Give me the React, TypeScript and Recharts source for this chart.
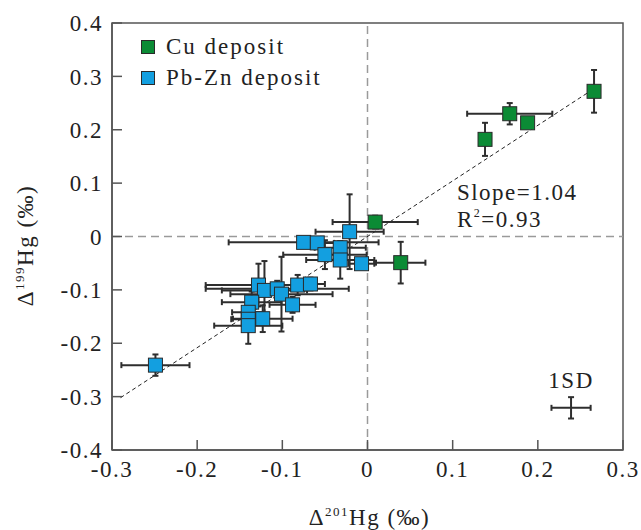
import React from 'react'
import {
  ScatterChart, Scatter, XAxis, YAxis, ErrorBar,
  ReferenceLine, ReferenceArea, ReferenceDot, Legend, Label,
} from 'recharts'

document.body.style.margin = '0'

const FONT = '"Liberation Serif", "Times New Roman", serif'
const CU_COLOR = '#0b8b35'
const PBZN_COLOR = '#139fe0'
const BAR_COLOR = '#2e2e2e'

const xTicks = [-0.3, -0.2, -0.1, 0, 0.1, 0.2, 0.3]
const yTicks = [-0.4, -0.3, -0.2, -0.1, 0, 0.1, 0.2, 0.3, 0.4]

// Pb-Zn deposit: Δ201Hg, Δ199Hg and 1SD on each
const pbZnX = [-0.249, -0.021, -0.075, -0.059, -0.050, -0.032, -0.032, -0.007, -0.128, -0.121, -0.106, -0.101, -0.082, -0.067, -0.136, -0.088, -0.140, -0.140, -0.140, -0.123]
const pbZnY = [-0.241, 0.009, -0.011, -0.012, -0.034, -0.021, -0.044, -0.051, -0.091, -0.101, -0.098, -0.108, -0.091, -0.089, -0.123, -0.128, -0.142, -0.155, -0.167, -0.154]
const pbZnErrX = [0.040, 0.040, 0.088, 0.020, 0.049, 0.030, 0.040, 0.015, 0.062, 0.050, 0.084, 0.060, 0.020, 0.017, 0.035, 0.027, 0.019, 0.020, 0.040, 0.035]
const pbZnErrY = [0.020, 0.070, 0.008, 0.010, 0.027, 0.012, 0.035, 0.010, 0.040, 0.055, 0.015, 0.070, 0.019, 0.012, 0.020, 0.015, 0.015, 0.015, 0.034, 0.025]

// Cu deposit
const cuX = [0.266, 0.167, 0.188, 0.138, 0.009, 0.039]
const cuY = [0.272, 0.230, 0.213, 0.182, 0.027, -0.049]
const cuErrX = [0.006, 0.050, 0, 0.004, 0.050, 0.029]
const cuErrY = [0.040, 0.020, 0, 0.031, 0.012, 0.039]

// typical 1SD marker
const sdPoint = { x: 0.239, y: -0.321, ex: 0.023, ey: 0.02 }

// regression line ends (slope 1.04)
const fitStart = { x: -0.29, y: -0.302 }
const fitEnd = { x: 0.265, y: 0.276 }

const zip = (xs: number[], ys: number[], exs: number[], eys: number[]) =>
  xs.map((x, i) => ({ x, y: ys[i], ex: exs[i], ey: eys[i] }))

const pbZnData = zip(pbZnX, pbZnY, pbZnErrX, pbZnErrY)
const cuData = zip(cuX, cuY, cuErrX, cuErrY)

const legendItems = [
  { name: 'Cu deposit', color: CU_COLOR },
  { name: 'Pb-Zn deposit', color: PBZN_COLOR },
]

const square = (fill: string) => (p: any) => (
  <rect x={p.cx - 7} y={p.cy - 7} width={14} height={14} fill={fill} stroke="#2a2a2a" strokeWidth={1} />
)

const textStyle = { fontFamily: FONT, fontSize: 23, fill: '#222', letterSpacing: 1.5 }

function LegendBox() {
  return (
    <div style={{ fontFamily: FONT, fontSize: 23, color: '#222', letterSpacing: 2 }}>
      {legendItems.map(item => (
        <div key={item.name} style={{ display: 'flex', alignItems: 'center', height: 31 }}>
          <span style={{ width: 12, height: 12, background: item.color, border: '1px solid #2a2a2a', marginRight: 11 }} />
          <span>{item.name}</span>
        </div>
      ))}
    </div>
  )
}

function YTitle({ viewBox }: any) {
  const cy = viewBox.y + viewBox.height / 2 + 9
  return (
    <text transform={`translate(33, ${cy}) rotate(-90)`} textAnchor="middle" {...textStyle}>
      Δ<tspan dy={-9} fontSize={13}>199</tspan><tspan dy={9}>Hg (‰)</tspan>
    </text>
  )
}

function XTitle({ viewBox }: any) {
  const cx = viewBox.x + viewBox.width / 2 + 2
  return (
    <text x={cx} y={525} textAnchor="middle" {...textStyle}>
      Δ<tspan dy={-9} fontSize={13}>201</tspan><tspan dy={9}>Hg (‰)</tspan>
    </text>
  )
}

export default function App() {
  return (
    <ScatterChart width={641} height={530} margin={{ top: 23, right: 18, bottom: 50, left: 0 }}>
      <XAxis
        type="number" dataKey="x" domain={[-0.3, 0.3]} ticks={xTicks} allowDataOverflow
        height={30} tickSize={-10} tickMargin={21}
        axisLine={{ stroke: '#555', strokeWidth: 1.5 }} tickLine={{ stroke: '#555', strokeWidth: 1.5 }}
        tick={textStyle} tickFormatter={(v: number) => String(v)}
      >
        <Label content={XTitle} />
      </XAxis>
      <YAxis
        type="number" dataKey="y" domain={[-0.4, 0.4]} ticks={yTicks} allowDataOverflow
        width={112} tickSize={-10} tickMargin={19}
        axisLine={{ stroke: '#555', strokeWidth: 1.5 }} tickLine={{ stroke: '#555', strokeWidth: 1.5 }}
        tick={textStyle} tickFormatter={(v: number) => String(v)}
      >
        <Label content={YTitle} />
      </YAxis>
      <ReferenceArea x1={-0.3} x2={0.3} y1={-0.4} y2={0.4} fill="none" fillOpacity={0} stroke="#555" strokeWidth={1.5} />
      <ReferenceLine x={0} stroke="#9a9a9a" strokeWidth={1.5} strokeDasharray="8 5" />
      <ReferenceLine y={0} stroke="#9a9a9a" strokeWidth={1.5} strokeDasharray="8 5" />
      <ReferenceLine segment={[fitStart, fitEnd]} stroke="#222" strokeWidth={1} strokeDasharray="4 3" />
      <Legend
        layout="vertical" align="center" verticalAlign="middle" content={LegendBox}
        wrapperStyle={{ position: 'absolute', left: 141, top: 31, width: 'auto', height: 'auto' }}
      />
      <Scatter name="Pb-Zn deposit" data={pbZnData} shape={square(PBZN_COLOR)} isAnimationActive={false}>
        <ErrorBar dataKey="ex" direction="x" width={3} stroke={BAR_COLOR} strokeWidth={2} isAnimationActive={false} />
        <ErrorBar dataKey="ey" direction="y" width={3} stroke={BAR_COLOR} strokeWidth={2} isAnimationActive={false} />
      </Scatter>
      <Scatter name="Cu deposit" data={cuData} shape={square(CU_COLOR)} isAnimationActive={false}>
        <ErrorBar dataKey="ex" direction="x" width={3} stroke={BAR_COLOR} strokeWidth={2} isAnimationActive={false} />
        <ErrorBar dataKey="ey" direction="y" width={3} stroke={BAR_COLOR} strokeWidth={2} isAnimationActive={false} />
      </Scatter>
      <Scatter name="1SD" data={[sdPoint]} shape={() => <g />} legendType="none" isAnimationActive={false}>
        <ErrorBar dataKey="ex" direction="x" width={3} stroke={BAR_COLOR} strokeWidth={2} isAnimationActive={false} />
        <ErrorBar dataKey="ey" direction="y" width={3} stroke={BAR_COLOR} strokeWidth={2} isAnimationActive={false} />
      </Scatter>
      <ReferenceDot
        x={0.239} y={-0.283} r={0}
        shape={(p: any) => <text x={p.cx} y={p.cy} textAnchor="middle" {...textStyle}>1SD</text>}
      />
      <ReferenceDot
        x={0.105} y={0.0675} r={0}
        shape={(p: any) => (
          <g>
            <text x={p.cx} y={p.cy} {...textStyle}>Slope=1.04</text>
            <text x={p.cx} y={p.cy + 27} {...textStyle}>
              R<tspan dy={-10} fontSize={12}>2</tspan><tspan dy={10}>=0.93</tspan>
            </text>
          </g>
        )}
      />
    </ScatterChart>
  )
}
